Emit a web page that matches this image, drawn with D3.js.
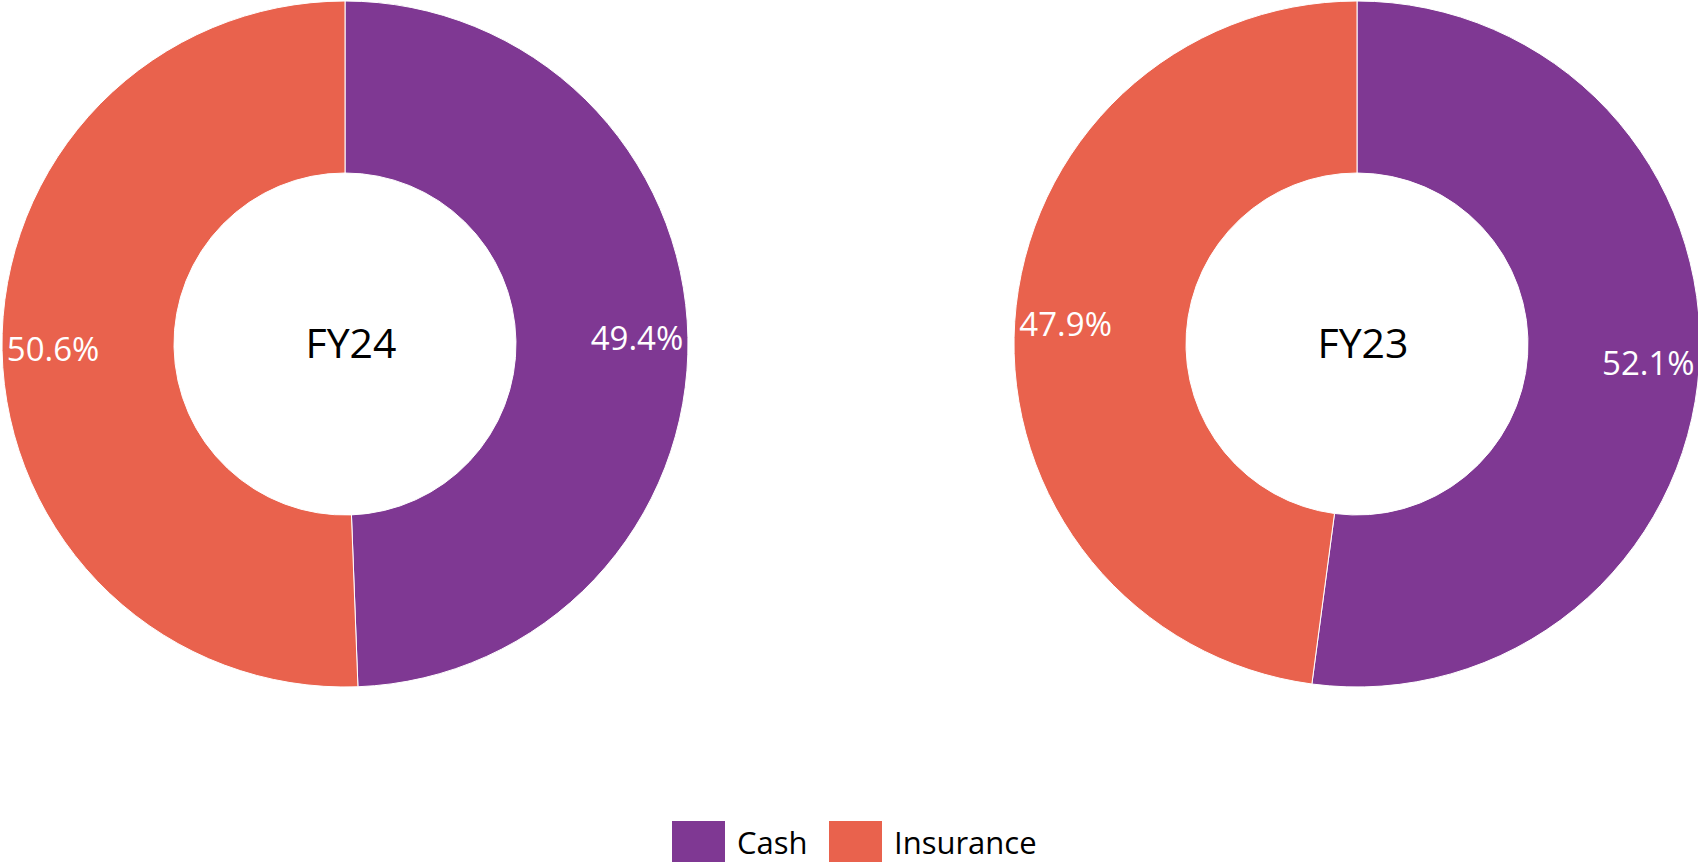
<!DOCTYPE html>
<html>
<head>
<meta charset="utf-8">
<script src="https://cdn.jsdelivr.net/npm/d3@7"></script>
<style>
  html, body { margin: 0; padding: 0; background: #fff; overflow: hidden; }
  svg { display: block; font-family: "Open Sans", "Noto Sans", sans-serif; }
</style>
</head>
<body>
<svg id="chart"></svg>
<script>
const categories = ["Cash", "Insurance"];
const years = ["FY24", "FY23"];
const fy24 = [49.4, 50.6];
const fy23 = [52.1, 47.9];
const COLORS = ["#7F3893", "#E9624D"];

const W = 1698, H = 862;
const outerR = 343, innerR = 171, labelR = 292;
const centers = [[345, 344], [1357, 344]];

const svg = d3.select("#chart").attr("width", W).attr("height", H);

const color = d3.scaleOrdinal().domain(categories).range(COLORS);

const pie = d3.pie().sort(null).value(d => d.value);
const arc = d3.arc().innerRadius(innerR).outerRadius(outerR);
const labelArc = d3.arc().innerRadius(labelR).outerRadius(labelR);

[fy24, fy23].forEach(function (vals, i)
{
    const data = categories.map((c, j) => ({ cat: c, value: vals[j] }));
    const g = svg.append("g")
        .attr("transform", "translate(" + centers[i][0] + "," + centers[i][1] + ")");

    const arcs = pie(data);

    g.selectAll("path")
        .data(arcs)
        .enter().append("path")
        .attr("d", arc)
        .attr("fill", d => color(d.data.cat))
        .attr("stroke", "#fff")
        .attr("stroke-width", 1);

    g.selectAll("text.lbl")
        .data(arcs)
        .enter().append("text")
        .attr("class", "lbl")
        .attr("transform", d => "translate(" + labelArc.centroid(d) + ")")
        .attr("text-anchor", "middle")
        .attr("dy", "0.35em")
        .style("font-size", "33px")
        .attr("fill", "#fff")
        .text(d => d.data.value.toFixed(1) + "%");

    g.append("text")
        .attr("x", 6)
        .attr("text-anchor", "middle")
        .attr("dy", "0.33em")
        .style("font-size", "41px")
        .attr("fill", "#000")
        .text(years[i]);
});

// legend
const legend = svg.append("g").attr("transform", "translate(672,821)");
const legendX = [0, 157];
categories.forEach(function (c, i)
{
    const item = legend.append("g").attr("transform", "translate(" + legendX[i] + ",0)");
    item.append("rect")
        .attr("width", 53)
        .attr("height", 41)
        .attr("fill", color(c));
    item.append("text")
        .attr("x", 65)
        .attr("y", 33)
        .style("font-size", "31px")
        .attr("fill", "#000")
        .text(c);
});
</script>
</body>
</html>
